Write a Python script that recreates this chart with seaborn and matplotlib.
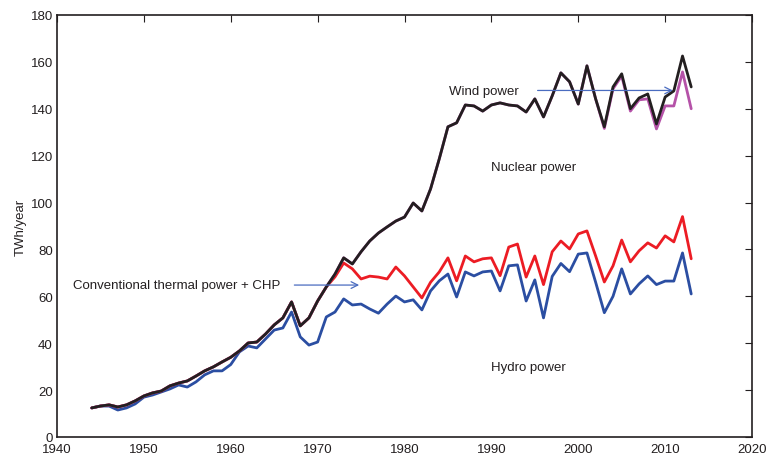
import numpy as np
import pandas as pd
import matplotlib
matplotlib.use("Agg")
import matplotlib.pyplot as plt
import seaborn as sns

years = list(range(1944, 2014))

hydro = [12.4, 13.2, 13.2, 11.5, 12.4, 14.1, 17.0, 17.9, 19.2, 20.5,
         22.2, 21.3, 23.5, 26.5, 28.2, 28.2, 30.9, 36.3, 38.8, 38.0,
         41.8, 45.6, 46.5, 53.3, 42.7, 39.2, 40.5, 51.2, 53.3, 58.9,
         56.3, 56.7, 54.6, 52.8, 56.7, 60.1, 57.6, 58.5, 54.2, 62.3,
         66.6, 69.5, 59.7, 70.4, 68.7, 70.4, 70.8, 62.3, 73.0, 73.4,
         58.0, 67.0, 50.8, 68.5, 74.0, 70.5, 78.0, 78.5, 66.0, 53.0,
         60.0, 71.7, 61.0, 65.3, 68.7, 65.0, 66.5, 66.5, 78.5, 61.0]

hydro_thermal = [12.4, 13.2, 13.7, 12.8, 13.7, 15.4, 17.5, 18.8, 19.6, 21.8,
                 23.0, 23.9, 26.0, 28.2, 29.9, 32.0, 34.0, 36.7, 40.1, 40.5,
                 43.9, 47.8, 50.8, 57.6, 47.4, 50.8, 58.0, 64.0, 68.3, 74.2,
                 71.7, 67.4, 68.6, 68.2, 67.4, 72.5, 68.7, 64.0, 59.3, 66.0,
                 70.4, 76.4, 66.6, 77.2, 74.7, 76.0, 76.4, 68.8, 81.0, 82.3,
                 68.2, 77.2, 65.0, 79.0, 83.6, 80.2, 86.6, 87.9, 77.2, 66.1,
                 73.0, 84.0, 74.7, 79.4, 82.8, 80.6, 85.8, 83.2, 94.0, 76.0]

with_nuclear = [12.4, 13.2, 13.7, 12.8, 13.7, 15.4, 17.5, 18.8, 19.6, 21.8,
                23.0, 23.9, 26.0, 28.2, 29.9, 32.0, 34.0, 36.7, 40.1, 40.5,
                43.9, 47.8, 50.8, 57.6, 47.4, 50.8, 58.0, 64.0, 69.5, 76.4,
                73.8, 79.0, 83.6, 87.0, 89.6, 92.1, 93.8, 99.8, 96.4, 105.8,
                118.6, 132.3, 134.0, 141.6, 141.2, 139.0, 141.6, 142.5, 141.6, 141.2,
                138.6, 144.2, 136.5, 145.5, 155.3, 151.5, 142.0, 158.3, 144.2, 131.6,
                148.5, 154.0, 139.0, 143.8, 144.2, 131.4, 141.2, 141.2, 155.7, 140.0]

total = [12.4, 13.2, 13.7, 12.8, 13.7, 15.4, 17.5, 18.8, 19.6, 21.8,
         23.0, 23.9, 26.0, 28.2, 29.9, 32.0, 34.0, 36.7, 40.1, 40.5,
         43.9, 47.8, 50.8, 57.6, 47.4, 50.8, 58.0, 64.0, 69.5, 76.4,
         73.8, 79.0, 83.6, 87.0, 89.6, 92.1, 93.8, 99.8, 96.4, 105.8,
         118.6, 132.3, 134.0, 141.6, 141.2, 139.0, 141.6, 142.5, 141.6, 141.2,
         138.6, 144.2, 136.5, 145.5, 155.3, 151.5, 142.0, 158.3, 144.2, 132.3,
         149.3, 154.9, 140.0, 144.6, 146.3, 133.5, 145.0, 147.6, 162.5, 149.3]

df = pd.DataFrame({
    "year": years,
    "hydro": hydro,
    "hydro_thermal": hydro_thermal,
    "with_nuclear": with_nuclear,
    "total": total,
})

sns.set_style("white")
plt.rcParams["font.family"] = ["Liberation Sans", "DejaVu Sans"]

txt = "#231f20"
fig = plt.figure(figsize=(7.68, 4.56), dpi=100)
ax = fig.add_axes([0.0742, 0.0395, 0.905, 0.9255])

lw = 2.0
sns.lineplot(data=df, x="year", y="hydro", ax=ax, color="#2b4ea2", lw=lw)
sns.lineplot(data=df, x="year", y="hydro_thermal", ax=ax, color="#ec1c24", lw=lw)
sns.lineplot(data=df, x="year", y="with_nuclear", ax=ax, color="#b552a8", lw=lw)
sns.lineplot(data=df, x="year", y="total", ax=ax, color=txt, lw=lw)

ax.set_xlim(1940, 2020)
ax.set_ylim(0, 180)
ax.set_xticks(range(1940, 2021, 10))
ax.set_yticks(range(0, 181, 20))
ax.set_xlabel("")
ax.set_ylabel("TWh/year", fontsize=9.5, color=txt, labelpad=3)
ax.tick_params(direction="in", length=5, width=0.8, colors=txt, labelsize=9.5,
               top=True, right=True, labeltop=False, labelright=False)
ax.tick_params(axis="x", pad=4.5)
ax.tick_params(axis="y", pad=3)
for s in ax.spines.values():
    s.set_color(txt)
    s.set_linewidth(1.2)

arrow_kw = dict(arrowstyle="->", color="#4a6cc0", lw=0.9, mutation_scale=12)
ax.text(1985.1, 147.6, "Wind power", fontsize=9.5, color=txt, va="center")
ax.annotate("", xy=(2011.2, 147.8), xytext=(1995.0, 147.8), arrowprops=arrow_kw)
ax.text(1990.0, 115, "Nuclear power", fontsize=9.5, color=txt, va="center")
ax.text(1941.9, 64.8, "Conventional thermal power + CHP", fontsize=9.5, color=txt, va="center")
ax.annotate("", xy=(1975.1, 64.8), xytext=(1967.0, 64.8), arrowprops=arrow_kw)
ax.text(1990.0, 30, "Hydro power", fontsize=9.5, color=txt, va="center")

fig.savefig("out.png", dpi=100)
